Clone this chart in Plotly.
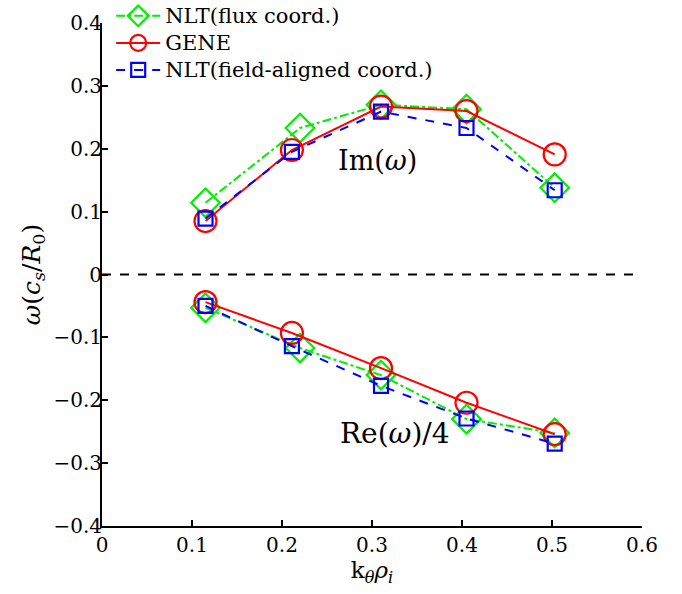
import plotly.graph_objects as go

# Wavenumbers k_theta * rho_i
k_gene = [0.115, 0.211, 0.310, 0.405, 0.503]
k_flux = [0.115, 0.220, 0.310, 0.405, 0.503]
k_field = [0.115, 0.211, 0.310, 0.405, 0.503]

# Growth rates Im(omega)
im_flux = [0.114, 0.233, 0.270, 0.263, 0.138]
im_gene = [0.085, 0.198, 0.267, 0.260, 0.191]
im_field = [0.089, 0.195, 0.259, 0.233, 0.134]

# Real frequencies Re(omega)/4
re_flux = [-0.053, -0.117, -0.160, -0.230, -0.252]
re_gene = [-0.044, -0.093, -0.149, -0.204, -0.254]
re_field = [-0.050, -0.114, -0.177, -0.229, -0.269]

series = [
    dict(name="NLT(flux coord.)", k=k_flux, im=im_flux, re=re_flux,
         color="#00ee00", dash="dashdot", symbol="diamond-open", size=22),
    dict(name="GENE", k=k_gene, im=im_gene, re=re_gene,
         color="#ff0000", dash="solid", symbol="circle-open", size=22),
    dict(name="NLT(field-aligned coord.)", k=k_field, im=im_field, re=re_field,
         color="#0000ff", dash="dash", symbol="square-open", size=14),
]

FONT = "DejaVu Serif"

fig = go.Figure()

# zero reference line
fig.add_trace(go.Scatter(x=[0, 0.6], y=[0, 0], mode="lines",
                         line=dict(color="black", width=2, dash="dash"),
                         showlegend=False, hoverinfo="skip"))

for s in series:
    for part, show in (("im", True), ("re", False)):
        fig.add_trace(go.Scatter(
            x=s["k"], y=s[part], mode="lines+markers",
            name="<span style='font-size:21px'>%s</span>" % s["name"],
            legendgroup=s["name"], showlegend=show,
            line=dict(color=s["color"], width=2, dash=s["dash"]),
            marker=dict(symbol=s["symbol"], size=s["size"], color=s["color"],
                        line=dict(color=s["color"], width=2.2)),
        ))

fig.add_annotation(x=0.306, y=0.181, text="Im(<i>ω</i>)", showarrow=False,
                   font=dict(family=FONT, size=27, color="black"))
fig.add_annotation(x=0.325, y=-0.2526, text="Re(<i>ω</i>)/4", showarrow=False,
                   font=dict(family=FONT, size=28, color="black"))

fig.update_layout(
    width=682, height=594,
    margin=dict(l=102, r=40, t=23, b=68, autoexpand=False),
    paper_bgcolor="white", plot_bgcolor="white",
    font=dict(family=FONT, size=20, color="black"),
    showlegend=True,
    legend=dict(x=0.017, y=1.051, xanchor="left", yanchor="top",
                bgcolor="rgba(0,0,0,0)", borderwidth=0,
                font=dict(family=FONT, size=18.5), tracegroupgap=0,
                itemsizing="trace", itemwidth=44),
)
fig.update_xaxes(
    range=[0, 0.6], tickvals=[0, 0.1, 0.2, 0.3, 0.4, 0.5, 0.6],
    ticktext=["0", "0.1", "0.2", "0.3", "0.4", "0.5", "0.6"],
    showgrid=False, zeroline=False, showline=True, linecolor="black", linewidth=2,
    ticks="inside", ticklen=6, tickwidth=1.5, tickcolor="black",
    title=dict(text="k<sub><i>θ</i></sub><i>ρ</i><sub><i>i</i></sub>",
               font=dict(family=FONT, size=23), standoff=2),
)
fig.update_yaxes(
    range=[-0.4, 0.4], tickvals=[-0.4, -0.3, -0.2, -0.1, 0, 0.1, 0.2, 0.3, 0.4],
    ticktext=["−0.4", "−0.3", "−0.2", "−0.1", "0", "0.1", "0.2", "0.3", "0.4"],
    showgrid=False, zeroline=False, showline=True, linecolor="black", linewidth=2,
    ticks="inside", ticklen=6, tickwidth=1.5, tickcolor="black",
    ticklabelstandoff=-6,
    title=dict(text="<i>ω</i>(<i>c</i><sub><i>s</i></sub>/<i>R</i><sub>0</sub>)",
               font=dict(family=FONT, size=25), standoff=6),
)

fig.write_html("out.html")
